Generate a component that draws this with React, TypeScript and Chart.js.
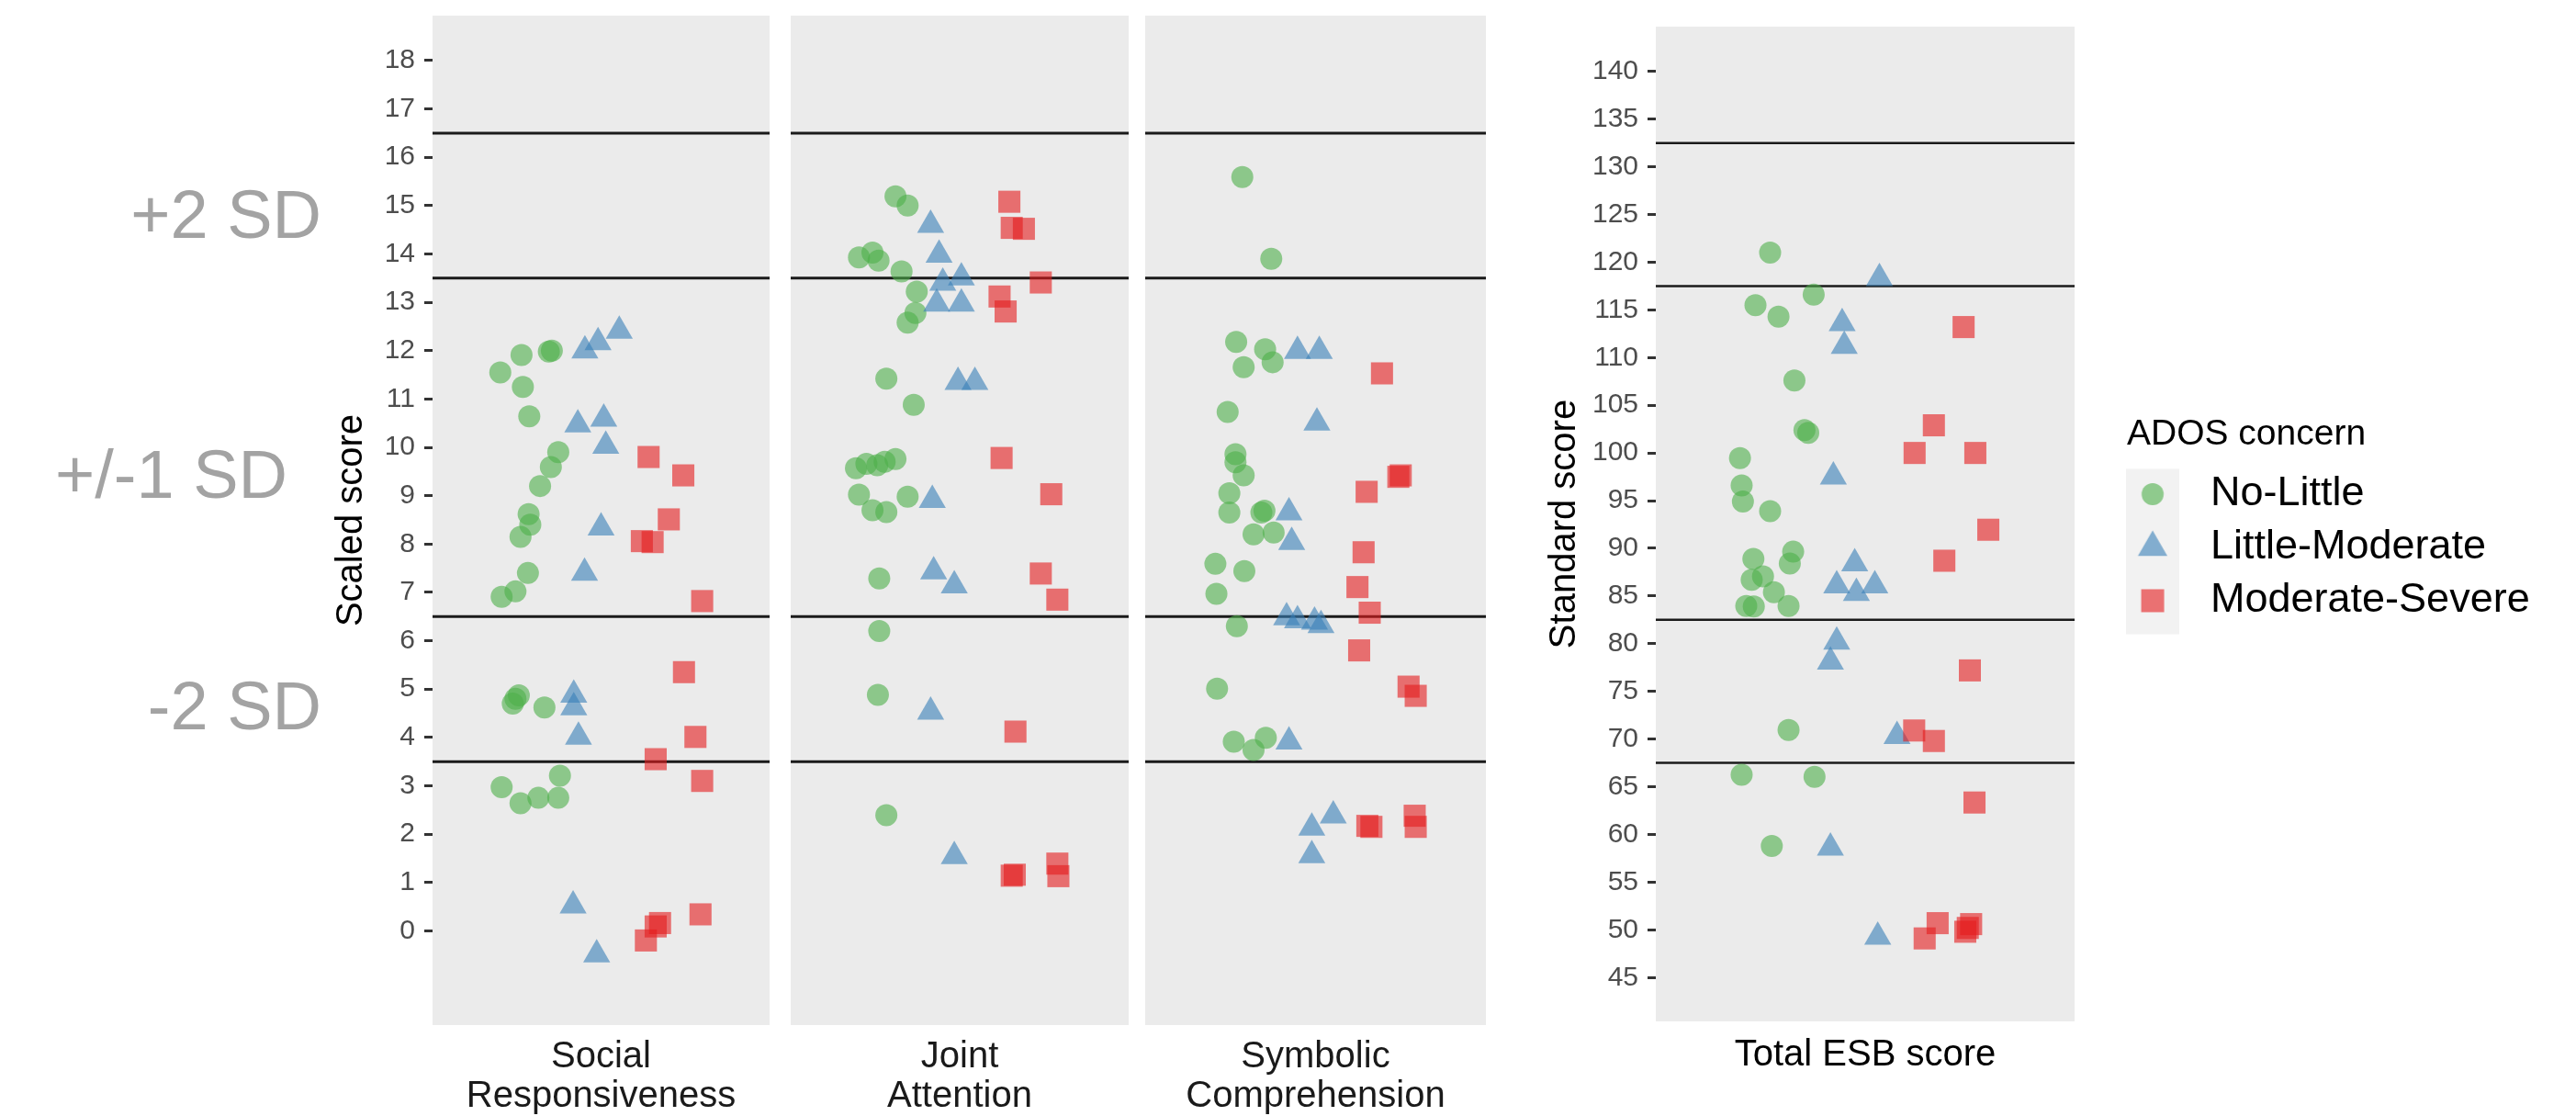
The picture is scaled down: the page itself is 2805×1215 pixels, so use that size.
import React, { useEffect, useRef } from 'react';
import { Chart, registerables } from 'chart.js';

Chart.register(...registerables);

const FONT = "'Liberation Sans', Arial, Helvetica, sans-serif";

// ---------- data ----------
const groupLabels = ['No-Little', 'Little-Moderate', 'Moderate-Severe'];
const facetTitles = [['Social', 'Responsiveness'], ['Joint', 'Attention'], ['Symbolic', 'Comprehension']];
const esbTitle = 'Total ESB score';
const scaledTicks = [0, 1, 2, 3, 4, 5, 6, 7, 8, 9, 10, 11, 12, 13, 14, 15, 16, 17, 18];
const standardTicks = [45, 50, 55, 60, 65, 70, 75, 80, 85, 90, 95, 100, 105, 110, 115, 120, 125, 130, 135, 140];
const scaledBands = [16.5, 13.5, 6.5, 3.5];
const standardBands = [132.5, 117.5, 82.5, 67.5];
const sdLabels = ['+2 SD', '+/-1 SD', '-2 SD'];

// Social Responsiveness (x = jitter position inside the panel, y = scaled score)
const srNoLittleX = [0.201, 0.264, 0.354, 0.345, 0.268, 0.287, 0.373, 0.351, 0.319, 0.285, 0.29, 0.261, 0.283, 0.246, 0.205, 0.256, 0.246, 0.238, 0.332, 0.378, 0.205, 0.314, 0.373, 0.261];
const srNoLittleY = [11.55, 11.91, 12.0, 11.98, 11.25, 10.64, 9.9, 9.59, 9.2, 8.62, 8.4, 8.15, 7.4, 7.02, 6.91, 4.87, 4.8, 4.7, 4.62, 3.21, 2.97, 2.75, 2.75, 2.64];
const srLittleModX = [0.452, 0.491, 0.554, 0.431, 0.508, 0.514, 0.5, 0.451, 0.419, 0.419, 0.433, 0.417, 0.487];
const srLittleModY = [12.0, 12.17, 12.41, 10.47, 10.59, 10.03, 8.34, 7.4, 4.88, 4.62, 4.01, 0.52, -0.49];
const srModSevX = [0.641, 0.744, 0.701, 0.621, 0.653, 0.8, 0.746, 0.78, 0.662, 0.8, 0.633, 0.662, 0.675, 0.795];
const srModSevY = [9.8, 9.42, 8.51, 8.06, 8.04, 6.82, 5.35, 4.01, 3.55, 3.1, -0.2, 0.09, 0.16, 0.34];

// Joint Attention
const jaNoLittleX = [0.31, 0.346, 0.202, 0.242, 0.26, 0.328, 0.373, 0.369, 0.346, 0.283, 0.364, 0.193, 0.224, 0.256, 0.278, 0.31, 0.202, 0.346, 0.242, 0.283, 0.262, 0.262, 0.258, 0.283];
const jaNoLittleY = [15.19, 15.0, 13.93, 14.03, 13.86, 13.64, 13.22, 12.78, 12.58, 11.42, 10.88, 9.57, 9.66, 9.63, 9.7, 9.76, 9.02, 8.98, 8.7, 8.66, 7.29, 6.2, 4.88, 2.39];
const jaLittleModX = [0.414, 0.439, 0.45, 0.505, 0.432, 0.505, 0.495, 0.545, 0.419, 0.423, 0.484, 0.414, 0.484];
const jaLittleModY = [14.6, 13.98, 13.4, 13.51, 12.97, 12.97, 11.35, 11.35, 8.91, 7.43, 7.14, 4.53, 1.54];
const jaModSevX = [0.647, 0.654, 0.69, 0.74, 0.618, 0.636, 0.624, 0.771, 0.74, 0.789, 0.665, 0.654, 0.663, 0.789, 0.792];
const jaModSevY = [15.08, 14.54, 14.52, 13.41, 13.12, 12.81, 9.78, 9.03, 7.39, 6.85, 4.12, 1.14, 1.16, 1.39, 1.13];

// Symbolic Comprehension
const scNoLittleX = [0.285, 0.37, 0.267, 0.352, 0.374, 0.289, 0.242, 0.265, 0.265, 0.289, 0.247, 0.247, 0.341, 0.35, 0.318, 0.377, 0.206, 0.291, 0.209, 0.269, 0.211, 0.26, 0.318, 0.354];
const scNoLittleY = [15.59, 13.9, 12.18, 12.03, 11.76, 11.66, 10.73, 9.86, 9.69, 9.42, 9.05, 8.65, 8.65, 8.69, 8.2, 8.24, 7.59, 7.44, 6.97, 6.3, 5.01, 3.91, 3.74, 3.99];
const scLittleModX = [0.447, 0.511, 0.504, 0.422, 0.43, 0.415, 0.447, 0.497, 0.516, 0.422, 0.552, 0.489, 0.489];
const scLittleModY = [11.99, 11.99, 10.51, 8.65, 8.04, 6.48, 6.42, 6.39, 6.32, 3.91, 2.38, 2.13, 1.56];
const scModSevX = [0.695, 0.743, 0.75, 0.65, 0.641, 0.623, 0.659, 0.628, 0.773, 0.794, 0.652, 0.664, 0.791, 0.794];
const scModSevY = [11.53, 9.39, 9.42, 9.08, 7.83, 7.11, 6.58, 5.8, 5.05, 4.86, 2.17, 2.15, 2.38, 2.15];

// Total ESB score (standard score)
const esbNoLittleX = [0.273, 0.238, 0.293, 0.377, 0.331, 0.355, 0.364, 0.201, 0.205, 0.208, 0.273, 0.233, 0.328, 0.32, 0.229, 0.256, 0.282, 0.216, 0.234, 0.317, 0.317, 0.205, 0.379, 0.277];
const esbNoLittleY = [121.0, 115.5, 114.3, 116.6, 107.6, 102.4, 102.1, 99.45, 96.6, 94.9, 93.9, 88.9, 89.65, 88.4, 86.7, 87.05, 85.4, 83.95, 83.9, 83.95, 70.95, 66.25, 66.05, 58.8];
const esbLittleModX = [0.534, 0.445, 0.45, 0.424, 0.475, 0.432, 0.479, 0.523, 0.432, 0.417, 0.576, 0.417, 0.53];
const esbLittleModY = [118.3, 113.6, 111.2, 97.5, 88.4, 86.1, 85.3, 86.1, 80.2, 78.1, 70.3, 58.6, 49.25];
const esbModSevX = [0.735, 0.664, 0.618, 0.763, 0.794, 0.689, 0.75, 0.617, 0.664, 0.761, 0.673, 0.642, 0.753, 0.739, 0.745];
const esbModSevY = [113.2, 102.9, 100.0, 100.0, 91.95, 88.7, 77.2, 70.9, 69.8, 63.35, 50.7, 49.1, 50.6, 49.8, 50.2];

// ---------- styling ----------
const groupColors = ['rgba(77,175,74,0.6)', 'rgba(55,126,184,0.6)', 'rgba(228,26,28,0.6)'];
const groupStyles = ['circle', 'triangle', 'rect'];
const groupRadii = [12, 17, 17];

const panelBg = {
  id: 'panelBg',
  beforeDraw(chart: any) {
    const { ctx, chartArea: a } = chart;
    ctx.save();
    ctx.fillStyle = '#EBEBEB';
    ctx.fillRect(a.left, a.top, a.right - a.left, a.bottom - a.top);
    ctx.restore();
  },
};

const legendKeyBg = {
  id: 'legendKeyBg',
  beforeDraw(chart: any) {
    const lg = chart.legend;
    if (!lg || !lg.legendHitBoxes || lg.legendHitBoxes.length < 3) return;
    const hb = lg.legendHitBoxes;
    const ctx = chart.ctx;
    const top = hb[0].top - 5;
    const bottom = hb[2].top + hb[2].height + 14;
    ctx.save();
    ctx.fillStyle = '#F2F2F2';
    ctx.fillRect(lg.left - 1, top, 58, bottom - top);
    ctx.restore();
  },
};

function buildDatasets(xs: number[][], ys: number[][], bands: number[], bandWidth: number) {
  const pts = groupLabels.map((label, g) => ({
    label,
    data: xs[g].map((x, i) => ({ x, y: ys[g][i] })),
    pointStyle: groupStyles[g],
    pointRadius: groupRadii[g],
    pointHoverRadius: groupRadii[g],
    backgroundColor: groupColors[g],
    borderWidth: 0,
    order: 3 - g,
  }));
  const lines = bands.map((v) => ({
    label: 'band',
    data: [{ x: 0, y: v }, { x: 1, y: v }],
    showLine: true,
    borderColor: '#1a1a1a',
    borderWidth: bandWidth,
    pointRadius: 0,
    pointHoverRadius: 0,
    fill: false,
    order: 4,
  }));
  return [...pts, ...lines];
}

function facetConfig(xs: number[][], ys: number[][], title: string[], showY: boolean): any {
  return {
    type: 'scatter',
    data: { datasets: buildDatasets(xs, ys, scaledBands, 3) },
    plugins: [panelBg],
    options: {
      responsive: false,
      animation: false,
      devicePixelRatio: 1,
      events: [],
      layout: { autoPadding: false, padding: { top: 17, left: 0, right: 0, bottom: 0 } },
      plugins: { legend: { display: false }, tooltip: { enabled: false } },
      scales: {
        x: {
          type: 'linear',
          min: 0,
          max: 1,
          ticks: { display: false },
          grid: { display: false },
          border: { display: false },
          title: {
            display: true,
            text: title,
            color: '#1a1a1a',
            font: { family: FONT, size: 40, lineHeight: 1.075 },
            padding: { top: 0, bottom: 0 },
          },
          afterFit: (s: any) => {
            s.height = 99;
            s.paddingLeft = 0;
            s.paddingRight = 0;
          },
        },
        y: {
          type: 'linear',
          min: -1.95,
          max: 18.93,
          display: showY,
          afterBuildTicks: (s: any) => {
            s.ticks = scaledTicks.map((v) => ({ value: v }));
          },
          ticks: { autoSkip: false, color: '#4D4D4D', font: { family: FONT, size: 30 }, padding: 10 },
          grid: { display: true, drawOnChartArea: false, drawTicks: true, tickLength: 9, tickWidth: 3, tickColor: '#333333' },
          border: { display: false },
          title: {
            display: true,
            text: 'Scaled score',
            color: '#000000',
            font: { family: FONT, size: 40, lineHeight: 1.2 },
            padding: { top: 359, bottom: 0 },
          },
          afterFit: (s: any) => {
            s.width = showY ? 471 : 0;
            s.paddingTop = 0;
            s.paddingBottom = 0;
          },
        },
      },
    },
  };
}

function markerImage(style: string, color: string): HTMLCanvasElement {
  const c = document.createElement('canvas');
  c.width = 60;
  c.height = 44;
  const ctx = c.getContext('2d') as CanvasRenderingContext2D;
  const cx = 17.25;
  const cy = 22;
  ctx.fillStyle = color;
  ctx.beginPath();
  if (style === 'circle') {
    ctx.arc(cx, cy, 12, 0, Math.PI * 2);
  } else if (style === 'triangle') {
    const r = 18.5;
    for (let k = 0; k < 3; k++) {
      const a = (k * 2 * Math.PI) / 3;
      const px = cx + Math.sin(a) * r;
      const py = cy - Math.cos(a) * r;
      if (k === 0) ctx.moveTo(px, py);
      else ctx.lineTo(px, py);
    }
    ctx.closePath();
  } else {
    ctx.rect(cx - 12.5, cy - 12.5, 25, 25);
  }
  ctx.fill();
  return c;
}

function esbConfig(images: HTMLCanvasElement[]): any {
  return {
    type: 'scatter',
    data: {
      datasets: buildDatasets(
        [esbNoLittleX, esbLittleModX, esbModSevX],
        [esbNoLittleY, esbLittleModY, esbModSevY],
        standardBands,
        2.5
      ),
    },
    plugins: [panelBg, legendKeyBg],
    options: {
      responsive: false,
      animation: false,
      devicePixelRatio: 1,
      events: [],
      layout: { autoPadding: false, padding: { top: 29, left: 0, right: 0, bottom: 0 } },
      plugins: {
        tooltip: { enabled: false },
        legend: {
          display: true,
          position: 'right',
          align: 'start',
          maxWidth: 440,
          title: {
            display: true,
            text: 'ADOS concern',
            position: 'start',
            color: '#000000',
            font: { family: FONT, size: 39, lineHeight: 1.2 },
            padding: { top: 424.5, bottom: 2.2 },
          },
          labels: {
            usePointStyle: true,
            pointStyleWidth: 55.5,
            padding: 13,
            color: '#000000',
            font: { family: FONT, size: 45 },
            generateLabels: (chart: any) =>
              chart.data.datasets.slice(0, 3).map((ds: any, i: number) => ({
                text: ds.label,
                fillStyle: ds.backgroundColor,
                strokeStyle: 'rgba(0,0,0,0)',
                lineWidth: 0,
                pointStyle: images[i],
                hidden: false,
                datasetIndex: i,
                fontColor: '#000000',
              })),
          },
        },
      },
      scales: {
        x: {
          type: 'linear',
          min: 0,
          max: 1,
          ticks: { display: false },
          grid: { display: false },
          border: { display: false },
          title: {
            display: true,
            text: esbTitle,
            color: '#000000',
            font: { family: FONT, size: 40, lineHeight: 1.2 },
            padding: { top: 0, bottom: 42 },
          },
          afterFit: (s: any) => {
            s.height = 103;
            s.paddingLeft = 0;
            s.paddingRight = 0;
          },
        },
        y: {
          type: 'linear',
          min: 40.4,
          max: 144.7,
          afterBuildTicks: (s: any) => {
            s.ticks = standardTicks.map((v) => ({ value: v }));
          },
          ticks: { autoSkip: false, color: '#4D4D4D', font: { family: FONT, size: 30 }, padding: 10 },
          grid: { display: true, drawOnChartArea: false, drawTicks: true, tickLength: 9, tickWidth: 3, tickColor: '#333333' },
          border: { display: false },
          title: {
            display: true,
            text: 'Standard score',
            color: '#000000',
            font: { family: FONT, size: 40, lineHeight: 1.2 },
            padding: { top: 40, bottom: 0 },
          },
          afterFit: (s: any) => {
            s.width = 163;
            s.paddingTop = 0;
            s.paddingBottom = 0;
          },
        },
        yGap: {
          type: 'linear',
          position: 'right',
          display: true,
          ticks: { display: false },
          grid: { display: false },
          border: { display: false },
          afterFit: (s: any) => {
            s.width = 57;
            s.paddingTop = 0;
            s.paddingBottom = 0;
          },
        },
      },
    },
  };
}

const sdStyle = (right: number, centerY: number): React.CSSProperties => ({
  position: 'absolute',
  left: 0,
  width: right,
  top: centerY - 37,
  textAlign: 'right',
  fontFamily: FONT,
  fontSize: 74,
  lineHeight: '74px',
  color: '#A3A3A3',
  whiteSpace: 'nowrap',
});

export default function App() {
  const r1 = useRef<HTMLCanvasElement>(null);
  const r2 = useRef<HTMLCanvasElement>(null);
  const r3 = useRef<HTMLCanvasElement>(null);
  const r4 = useRef<HTMLCanvasElement>(null);

  useEffect(() => {
    const charts: Chart[] = [];
    const images = groupStyles.map((s, i) => markerImage(s, groupColors[i]));
    if (r1.current)
      charts.push(
        new Chart(
          r1.current,
          facetConfig([srNoLittleX, srLittleModX, srModSevX], [srNoLittleY, srLittleModY, srModSevY], facetTitles[0], true)
        )
      );
    if (r2.current)
      charts.push(
        new Chart(
          r2.current,
          facetConfig([jaNoLittleX, jaLittleModX, jaModSevX], [jaNoLittleY, jaLittleModY, jaModSevY], facetTitles[1], false)
        )
      );
    if (r3.current)
      charts.push(
        new Chart(
          r3.current,
          facetConfig([scNoLittleX, scLittleModX, scModSevX], [scNoLittleY, scLittleModY, scModSevY], facetTitles[2], false)
        )
      );
    if (r4.current) charts.push(new Chart(r4.current, esbConfig(images)));
    return () => charts.forEach((c) => c.destroy());
  }, []);

  return (
    <div
      style={{
        position: 'absolute',
        left: 0,
        top: 0,
        width: 2805,
        height: 1215,
        background: '#ffffff',
        overflow: 'hidden',
      }}
    >
      <div style={sdStyle(350, 234)}>{sdLabels[0]}</div>
      <div style={sdStyle(313, 517)}>{sdLabels[1]}</div>
      <div style={sdStyle(350, 769)}>{sdLabels[2]}</div>
      <canvas ref={r1} width={838} height={1215} style={{ position: 'absolute', left: 0, top: 0 }} />
      <canvas ref={r2} width={368} height={1215} style={{ position: 'absolute', left: 861, top: 0 }} />
      <canvas ref={r3} width={371} height={1215} style={{ position: 'absolute', left: 1247, top: 0 }} />
      <canvas ref={r4} width={1116} height={1215} style={{ position: 'absolute', left: 1640, top: 0 }} />
    </div>
  );
}
